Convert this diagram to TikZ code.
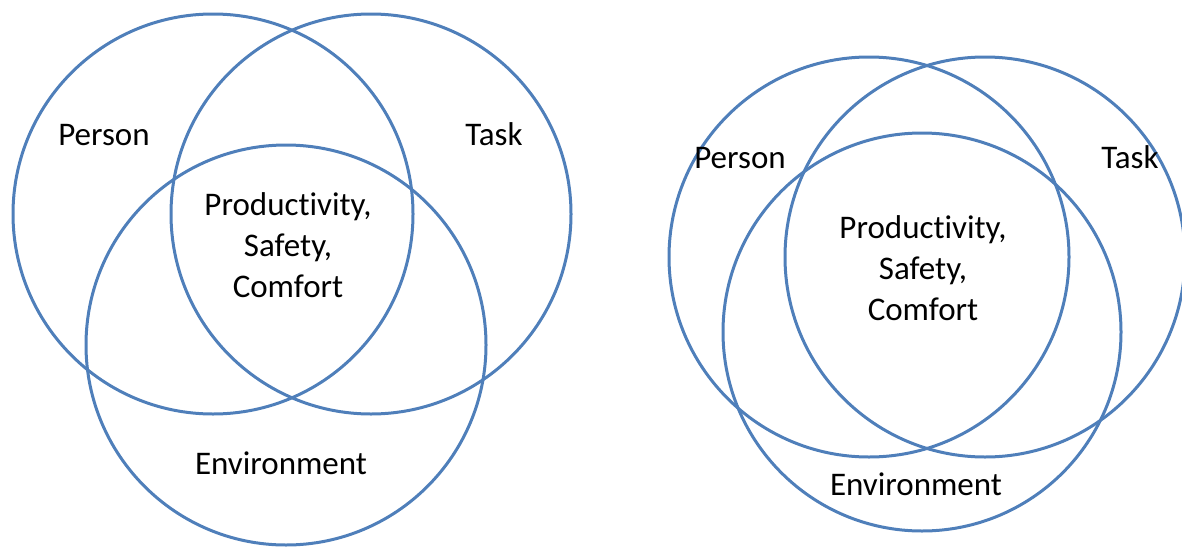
\documentclass[tikz,border=0pt]{standalone}
\usepackage{fontspec}
\setmainfont[RawFeature={-liga}]{Carlito}
\definecolor{ringblue}{HTML}{4F7FBA}
\begin{document}
\begin{tikzpicture}[x=1pt,y=-1pt,
  ring/.style={circle, draw=ringblue, line width=3pt, inner sep=0pt, outer sep=0pt},
  lbl/.style={font=\fontsize{33}{41}\selectfont, text=black, inner sep=0pt, anchor=base, align=center}]
\useasboundingbox (0,0) rectangle (1182,546);
% left diagram
\node[ring, minimum size=400pt] (lp) at (213,214) {};
\node[ring, minimum size=400pt] (lt) at (371,214) {};
\node[ring, minimum size=400pt] (le) at (286,345) {};
\node[lbl] (lpt) at (104,145) {Person};
\node[lbl] (ltt) at (494,145) {Task};
\node[lbl] (lct) at (288,297) {Productivity,\\Safety,\\Comfort};
\node[lbl] (let) at (281,474) {Environment};
% right diagram
\node[ring, minimum size=400pt] (rp) at (869,257) {};
\node[ring, minimum size=400pt] (rt) at (985,257) {};
\node[ring, minimum size=398pt] (re) at (922,332) {};
\node[lbl] (rpt) at (740,168) {Person};
\node[lbl] (rtt) at (1130,168) {Task};
\node[lbl] (rct) at (923,320) {Productivity,\\Safety,\\Comfort};
\node[lbl] (ret) at (916,495) {Environment};
\end{tikzpicture}
\end{document}
